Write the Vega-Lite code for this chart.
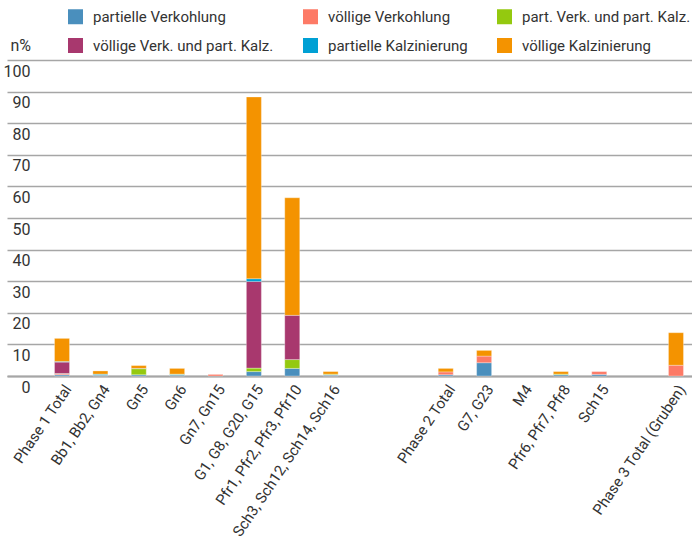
{
  "$schema": "https://vega.github.io/schema/vega-lite/v6.json",
  "width": 685,
  "height": 316,
  "autosize": "none",
  "padding": {"left": 7, "top": 60, "right": 0, "bottom": 166},
  "background": "white",
  "config": {
    "view": {"stroke": null},
    "font": "Roboto",
    "axis": {"labelColor": "#333333", "titleColor": "#333333", "labelFont": "Roboto", "titleFont": "Roboto"},
    "legend": {"labelFont": "Roboto"}
  },
  "data": {
    "values": [
      {"g": "Phase 1 Total", "t": "partielle Verkohlung", "o": 1, "v": 0.4},
      {"g": "Phase 1 Total", "t": "völlige Verkohlung", "o": 2, "v": 0.3},
      {"g": "Phase 1 Total", "t": "part. Verk. und part. Kalz.", "o": 3, "v": 0.1},
      {"g": "Phase 1 Total", "t": "völlige Verk. und part. Kalz.", "o": 4, "v": 3.6},
      {"g": "Phase 1 Total", "t": "partielle Kalzinierung", "o": 5, "v": 0.2},
      {"g": "Phase 1 Total", "t": "völlige Kalzinierung", "o": 6, "v": 7.3},
      {"g": "Bb1, Bb2, Gn4", "t": "partielle Verkohlung", "o": 1, "v": 0.3},
      {"g": "Bb1, Bb2, Gn4", "t": "part. Verk. und part. Kalz.", "o": 3, "v": 0.1},
      {"g": "Bb1, Bb2, Gn4", "t": "partielle Kalzinierung", "o": 5, "v": 0.2},
      {"g": "Bb1, Bb2, Gn4", "t": "völlige Kalzinierung", "o": 6, "v": 1.0},
      {"g": "Gn5", "t": "partielle Verkohlung", "o": 1, "v": 0.4},
      {"g": "Gn5", "t": "part. Verk. und part. Kalz.", "o": 3, "v": 1.9},
      {"g": "Gn5", "t": "partielle Kalzinierung", "o": 5, "v": 0.1},
      {"g": "Gn5", "t": "völlige Kalzinierung", "o": 6, "v": 0.9},
      {"g": "Gn6", "t": "partielle Verkohlung", "o": 1, "v": 0.3},
      {"g": "Gn6", "t": "part. Verk. und part. Kalz.", "o": 3, "v": 0.2},
      {"g": "Gn6", "t": "partielle Kalzinierung", "o": 5, "v": 0.1},
      {"g": "Gn6", "t": "völlige Kalzinierung", "o": 6, "v": 1.8},
      {"g": "Gn7, Gn15", "t": "völlige Verkohlung", "o": 2, "v": 0.5},
      {"g": "G1, G8, G20, G15", "t": "partielle Verkohlung", "o": 1, "v": 1.4},
      {"g": "G1, G8, G20, G15", "t": "part. Verk. und part. Kalz.", "o": 3, "v": 1.1},
      {"g": "G1, G8, G20, G15", "t": "völlige Verk. und part. Kalz.", "o": 4, "v": 27.4},
      {"g": "G1, G8, G20, G15", "t": "partielle Kalzinierung", "o": 5, "v": 0.9},
      {"g": "G1, G8, G20, G15", "t": "völlige Kalzinierung", "o": 6, "v": 57.5},
      {"g": "Pfr1, Pfr2, Pfr3, Pfr10", "t": "partielle Verkohlung", "o": 1, "v": 2.4},
      {"g": "Pfr1, Pfr2, Pfr3, Pfr10", "t": "part. Verk. und part. Kalz.", "o": 3, "v": 2.8},
      {"g": "Pfr1, Pfr2, Pfr3, Pfr10", "t": "völlige Verk. und part. Kalz.", "o": 4, "v": 14.0},
      {"g": "Pfr1, Pfr2, Pfr3, Pfr10", "t": "völlige Kalzinierung", "o": 6, "v": 37.2},
      {"g": "Sch3, Sch12, Sch14, Sch16", "t": "partielle Verkohlung", "o": 1, "v": 0.3},
      {"g": "Sch3, Sch12, Sch14, Sch16", "t": "völlige Verkohlung", "o": 2, "v": 0.1},
      {"g": "Sch3, Sch12, Sch14, Sch16", "t": "part. Verk. und part. Kalz.", "o": 3, "v": 0.2},
      {"g": "Sch3, Sch12, Sch14, Sch16", "t": "völlige Kalzinierung", "o": 6, "v": 0.8},
      {"g": "Phase 2 Total", "t": "partielle Verkohlung", "o": 1, "v": 0.4},
      {"g": "Phase 2 Total", "t": "völlige Verkohlung", "o": 2, "v": 0.9},
      {"g": "Phase 2 Total", "t": "völlige Kalzinierung", "o": 6, "v": 1.1},
      {"g": "G7, G23", "t": "partielle Verkohlung", "o": 1, "v": 4.2},
      {"g": "G7, G23", "t": "völlige Verkohlung", "o": 2, "v": 2.1},
      {"g": "G7, G23", "t": "völlige Kalzinierung", "o": 6, "v": 1.8},
      {"g": "Pfr6, Pfr7, Pfr8", "t": "partielle Verkohlung", "o": 1, "v": 0.4},
      {"g": "Pfr6, Pfr7, Pfr8", "t": "part. Verk. und part. Kalz.", "o": 3, "v": 0.2},
      {"g": "Pfr6, Pfr7, Pfr8", "t": "völlige Kalzinierung", "o": 6, "v": 0.8},
      {"g": "Sch15", "t": "partielle Verkohlung", "o": 1, "v": 0.5},
      {"g": "Sch15", "t": "völlige Verkohlung", "o": 2, "v": 0.9},
      {"g": "Phase 3 Total (Gruben)", "t": "völlige Verkohlung", "o": 2, "v": 3.4},
      {"g": "Phase 3 Total (Gruben)", "t": "völlige Kalzinierung", "o": 6, "v": 10.3}
    ]
  },
  "mark": {"type": "bar", "width": 15, "stroke": "white", "strokeWidth": 0.5, "strokeOpacity": 0.6},
  "encoding": {
    "x": {
      "field": "g",
      "type": "nominal",
      "sort": null,
      "scale": {
        "domain": ["Phase 1 Total", "Bb1, Bb2, Gn4", "Gn5", "Gn6", "Gn7, Gn15", "G1, G8, G20, G15", "Pfr1, Pfr2, Pfr3, Pfr10", "Sch3, Sch12, Sch14, Sch16", " ", "  ", "Phase 2 Total", "G7, G23", "M4", "Pfr6, Pfr7, Pfr8", "Sch15", "   ", "Phase 3 Total (Gruben)"],
        "paddingInner": 0.609,
        "paddingOuter": 0.73,
        "align": 0.848
      },
      "axis": {
        "title": null,
        "domain": true,
        "domainColor": "#a6a6a6",
        "domainWidth": 2,
        "ticks": false,
        "grid": false,
        "labelAngle": -56,
        "labelAlign": "right",
        "labelBaseline": "middle",
        "labelPadding": 10,
        "labelOffset": 6,
        "labelFontSize": 15,
        "labelLimit": 300
      }
    },
    "y": {
      "field": "v",
      "type": "quantitative",
      "stack": "zero",
      "scale": {"domain": [0, 100], "nice": false},
      "axis": {
        "values": [0, 10, 20, 30, 40, 50, 60, 70, 80, 90, 100],
        "grid": true,
        "gridColor": "#a6a6a6",
        "gridWidth": 1.6,
        "domain": false,
        "ticks": false,
        "tickSize": 0,
        "labelPadding": -23,
        "labelOffset": 11,
        "labelAlign": "right",
        "labelBaseline": "middle",
        "labelFontSize": 16,
        "title": "n%",
        "titleAngle": 0,
        "titleAlign": "left",
        "titleBaseline": "middle",
        "titleX": 3,
        "titleY": -15,
        "titleFontSize": 16,
        "titleFontWeight": "normal"
      }
    },
    "color": {
      "field": "t",
      "type": "nominal",
      "scale": {
        "domain": ["partielle Verkohlung", "völlige Verkohlung", "part. Verk. und part. Kalz.", "völlige Verk. und part. Kalz.", "partielle Kalzinierung", "völlige Kalzinierung"],
        "range": ["#4a8fbd", "#fd7a66", "#94c90f", "#a8386e", "#00a0d4", "#f49300"]
      },
      "legend": {
        "title": null,
        "orient": "none",
        "direction": "horizontal",
        "legendX": 61,
        "legendY": -51,
        "columns": 3,
        "symbolType": "square",
        "symbolSize": 225,
        "symbolStrokeWidth": 0,
        "labelFontSize": 15,
        "labelColor": "#333333",
        "labelOffset": 10,
        "columnPadding": 29,
        "rowPadding": 13,
        "padding": 0,
        "labelLimit": 300
      }
    },
    "order": {"field": "o", "type": "quantitative"}
  }
}
